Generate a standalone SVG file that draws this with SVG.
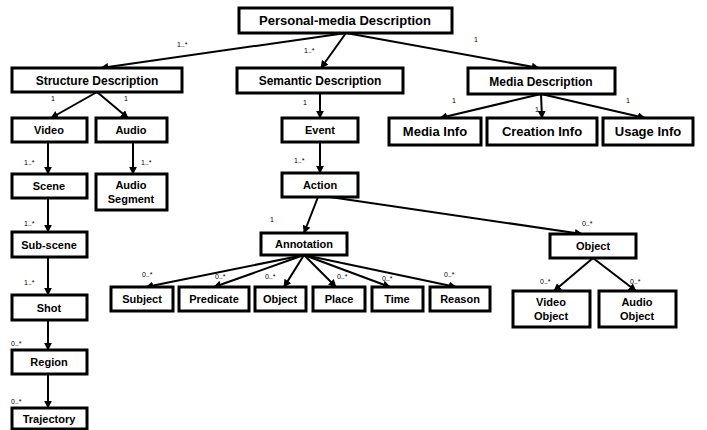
<svg xmlns="http://www.w3.org/2000/svg" width="707" height="430" viewBox="0 0 707 430">
<defs>
<marker id="ah" viewBox="0 0 10 10" refX="9" refY="5" markerWidth="4" markerHeight="4" orient="auto-start-reverse" markerUnits="strokeWidth">
<path d="M0,0 L10,5 L0,10 z" fill="#000"/>
</marker>
<style>
.b{fill:#fff;stroke:#000;stroke-width:3}
.t{font-family:"Liberation Sans",Arial,sans-serif;font-weight:bold;font-size:11px;text-anchor:middle;fill:#000}
.tl{font-size:13px}
.tm{font-size:12px}
.c{fill:none;stroke:#000;stroke-width:2;marker-end:url(#ah)}
.m{font-family:"Liberation Sans",Arial,sans-serif;font-size:7px;fill:#000}
</style>
</defs>
<rect width="707" height="430" fill="#fff"/>
<g id="connectors">
<line class="c" x1="346" y1="33" x2="101" y2="68"/>
<line class="c" x1="346" y1="33" x2="321" y2="68"/>
<line class="c" x1="346" y1="33" x2="539" y2="68"/>
<line class="c" x1="97" y1="92" x2="51" y2="118"/>
<line class="c" x1="97" y1="92" x2="128" y2="118"/>
<line class="c" x1="48" y1="142" x2="48" y2="174"/>
<line class="c" x1="133" y1="142" x2="133" y2="174"/>
<line class="c" x1="48" y1="198" x2="48" y2="232"/>
<line class="c" x1="48" y1="257" x2="48" y2="295"/>
<line class="c" x1="48" y1="320" x2="48" y2="350"/>
<line class="c" x1="48" y1="374" x2="48" y2="408"/>
<line class="c" x1="320" y1="93" x2="320" y2="118"/>
<line class="c" x1="320" y1="142" x2="320" y2="173"/>
<line class="c" x1="318" y1="197" x2="304" y2="233"/>
<line class="c" x1="330" y1="197" x2="582" y2="234"/>
<line class="c" x1="304" y1="255" x2="146" y2="287"/>
<line class="c" x1="304" y1="255" x2="214" y2="287"/>
<line class="c" x1="304" y1="255" x2="284" y2="287"/>
<line class="c" x1="304" y1="255" x2="336" y2="287"/>
<line class="c" x1="304" y1="255" x2="390" y2="287"/>
<line class="c" x1="304" y1="255" x2="456" y2="287"/>
<line class="c" x1="541" y1="94" x2="440" y2="118"/>
<line class="c" x1="541" y1="94" x2="542" y2="118"/>
<line class="c" x1="541" y1="94" x2="645" y2="118"/>
<line class="c" x1="593" y1="258" x2="554" y2="291"/>
<line class="c" x1="593" y1="258" x2="636" y2="291"/>
<text class="m" x="177" y="47">1..*</text>
<text class="m" x="304" y="53">1..*</text>
<text class="m" x="474" y="42">1</text>
<text class="m" x="51" y="101">1</text>
<text class="m" x="124" y="101">1</text>
<text class="m" x="24" y="165">1..*</text>
<text class="m" x="141" y="165">1..*</text>
<text class="m" x="24" y="226">1..*</text>
<text class="m" x="24" y="285">1..*</text>
<text class="m" x="11" y="346">0..*</text>
<text class="m" x="11" y="404">0..*</text>
<text class="m" x="303" y="105">1</text>
<text class="m" x="294" y="163">1..*</text>
<text class="m" x="270" y="222">1</text>
<text class="m" x="582" y="226">0..*</text>
<text class="m" x="142" y="277">0..*</text>
<text class="m" x="215" y="279">0..*</text>
<text class="m" x="265" y="279">0..*</text>
<text class="m" x="337" y="279">0..*</text>
<text class="m" x="382" y="281">0..*</text>
<text class="m" x="444" y="277">0..*</text>
<text class="m" x="452" y="103">1</text>
<text class="m" x="535" y="112">1</text>
<text class="m" x="626" y="103">1</text>
<text class="m" x="540" y="284">0..*</text>
<text class="m" x="630" y="284">0..*</text>
</g>
<g id="root"><rect class="b" x="239" y="8" width="213" height="25"/><text class="t tl" x="345" y="25">Personal-media Description</text></g>
<g id="structure"><rect class="b" x="12" y="68" width="170" height="24"/><text class="t tm" x="97" y="85">Structure Description</text></g>
<g id="semantic"><rect class="b" x="237" y="68" width="166" height="25"/><text class="t tm" x="320" y="85">Semantic Description</text></g>
<g id="media"><rect class="b" x="468" y="68" width="147" height="26"/><text class="t tm" x="541" y="86">Media Description</text></g>
<g id="video"><rect class="b" x="12" y="118" width="75" height="24"/><text class="t" x="49" y="134">Video</text></g>
<g id="audio"><rect class="b" x="96" y="118" width="71" height="24"/><text class="t" x="131" y="134">Audio</text></g>
<g id="scene"><rect class="b" x="12" y="174" width="75" height="24"/><text class="t" x="49" y="190">Scene</text></g>
<g id="audio-segment"><rect class="b" x="96" y="174" width="71" height="36"/><text class="t" x="131" y="189">Audio</text><text class="t" x="131" y="203">Segment</text></g>
<g id="sub-scene"><rect class="b" x="12" y="232" width="75" height="25"/><text class="t" x="49" y="249">Sub-scene</text></g>
<g id="shot"><rect class="b" x="12" y="295" width="75" height="25"/><text class="t" x="49" y="312">Shot</text></g>
<g id="region"><rect class="b" x="12" y="350" width="75" height="24"/><text class="t" x="49" y="366">Region</text></g>
<g id="trajectory"><rect class="b" x="12" y="408" width="75" height="21"/><text class="t" x="49" y="423">Trajectory</text></g>
<g id="event"><rect class="b" x="282" y="118" width="76" height="24"/><text class="t" x="320" y="134">Event</text></g>
<g id="action"><rect class="b" x="282" y="173" width="76" height="24"/><text class="t" x="320" y="189">Action</text></g>
<g id="annotation"><rect class="b" x="261" y="233" width="86" height="22"/><text class="t" x="304" y="248">Annotation</text></g>
<g id="object-main"><rect class="b" x="550" y="234" width="86" height="24"/><text class="t" x="593" y="250">Object</text></g>
<g id="video-object"><rect class="b" x="513" y="291" width="77" height="36"/><text class="t" x="551" y="306">Video</text><text class="t" x="551" y="320">Object</text></g>
<g id="audio-object"><rect class="b" x="599" y="291" width="77" height="36"/><text class="t" x="637" y="306">Audio</text><text class="t" x="637" y="320">Object</text></g>
<g id="media-info"><rect class="b" x="389" y="118" width="92" height="27"/><text class="t tl" x="435" y="136">Media Info</text></g>
<g id="creation-info"><rect class="b" x="487" y="118" width="110" height="27"/><text class="t tl" x="542" y="136">Creation Info</text></g>
<g id="usage-info"><rect class="b" x="603" y="118" width="90" height="27"/><text class="t tl" x="648" y="136">Usage Info</text></g>
<g id="subject"><rect class="b" x="111" y="287" width="62" height="24"/><text class="t" x="142" y="303">Subject</text></g>
<g id="predicate"><rect class="b" x="179" y="287" width="70" height="24"/><text class="t" x="214" y="303">Predicate</text></g>
<g id="object"><rect class="b" x="255" y="287" width="51" height="24"/><text class="t" x="280" y="303">Object</text></g>
<g id="place"><rect class="b" x="313" y="287" width="52" height="24"/><text class="t" x="339" y="303">Place</text></g>
<g id="time"><rect class="b" x="372" y="287" width="51" height="24"/><text class="t" x="397" y="303">Time</text></g>
<g id="reason"><rect class="b" x="430" y="287" width="60" height="24"/><text class="t" x="460" y="303">Reason</text></g>
</svg>
